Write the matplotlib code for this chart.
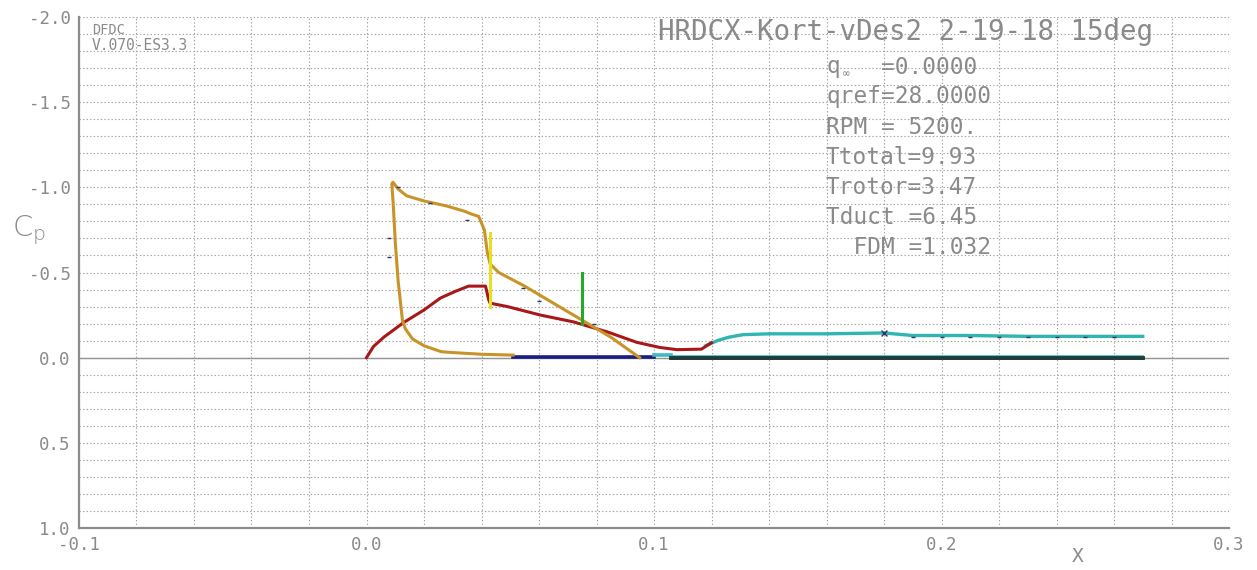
import numpy as np
import matplotlib
matplotlib.use("Agg")
import matplotlib.pyplot as plt
from matplotlib.ticker import MultipleLocator, FuncFormatter

plt.rcParams['axes.unicode_minus'] = False

# duct surface Cp (loop: lower surface end -> leading edge -> upper surface -> TE)
duct_x = [0.051, 0.040, 0.030, 0.026, 0.020, 0.016, 0.0135, 0.0125, 0.011, 0.010,
          0.0093, 0.0088, 0.0092, 0.011, 0.014, 0.020, 0.028, 0.034, 0.037, 0.039,
          0.041, 0.042, 0.043, 0.046, 0.055, 0.065, 0.075, 0.085, 0.095]
duct_cp = [-0.015, -0.02, -0.03, -0.035, -0.07, -0.11, -0.17, -0.22, -0.45, -0.68,
           -0.90, -1.02, -1.03, -0.99, -0.95, -0.92, -0.89, -0.86, -0.84, -0.83,
           -0.75, -0.62, -0.55, -0.50, -0.42, -0.32, -0.22, -0.12, 0.0]

# centerbody Cp
hub_x = [0.0, 0.0024, 0.006, 0.0129, 0.020, 0.0257, 0.031, 0.0355, 0.0414, 0.0425,
         0.043, 0.049, 0.0605, 0.072, 0.084, 0.094, 0.102, 0.108, 0.1165, 0.120]
hub_cp = [0.0, -0.065, -0.12, -0.206, -0.28, -0.35, -0.39, -0.42, -0.42, -0.34,
          -0.32, -0.30, -0.25, -0.21, -0.15, -0.09, -0.06, -0.047, -0.05, -0.088]

# wake
wake_x = [0.118, 0.122, 0.126, 0.131, 0.140, 0.160, 0.180, 0.190, 0.210, 0.230, 0.250, 0.270]
wake_cp = [-0.07, -0.10, -0.12, -0.135, -0.14, -0.14, -0.145, -0.13, -0.13, -0.125, -0.125, -0.125]

# lines on Cp = 0
navy_x = [0.051, 0.100]
navy_cp = [-0.005, -0.005]
stub_x = [0.100, 0.106]
stub_cp = [-0.015, -0.015]
dark_x = [0.106, 0.270]
dark_cp = [0.0, 0.0]
red0_x = [0.106, 0.270]
red0_cp = [0.01, 0.01]
cyan0_x = [0.106, 0.270]
cyan0_cp = [-0.01, -0.01]

# rotor / stator markers
rotor_x = [0.043, 0.043]
rotor_cp = [-0.30, -0.73]
stator_x = [0.075, 0.075]
stator_cp = [-0.20, -0.50]

# small data marks
mark_x = [0.011, 0.0077, 0.0077, 0.022, 0.035, 0.0546, 0.060, 0.079,
          0.19, 0.20, 0.21, 0.22, 0.23, 0.24, 0.25, 0.26]
mark_cp = [-1.0, -0.70, -0.59, -0.91, -0.81, -0.41, -0.33, -0.20,
           -0.12, -0.12, -0.12, -0.12, -0.12, -0.12, -0.12, -0.12]

title = "HRDCX-Kort-vDes2 2-19-18 15deg"
info = ["qref=28.0000", "RPM = 5200.", "Ttotal=9.93", "Trotor=3.47",
        "Tduct =6.45", "  FDM =1.032"]

W, H = 1257, 570
GRAY = '#8a8a8a'
MONO = 'DejaVu Sans Mono'

fig = plt.figure(figsize=(W / 100, H / 100), dpi=100)
ax = fig.add_axes([79 / W, 1 - 528 / H, (1229 - 79) / W, (528 - 17) / H])
ax.set_xlim(-0.1, 0.3)
ax.set_ylim(1.0, -2.0)

ax.xaxis.set_major_locator(MultipleLocator(0.1))
ax.xaxis.set_minor_locator(MultipleLocator(0.02))
ax.yaxis.set_major_locator(MultipleLocator(0.5))
ax.yaxis.set_minor_locator(MultipleLocator(0.1))
fmt = FuncFormatter(lambda v, p: f"{round(v, 3) + 0.0:.1f}")
ax.xaxis.set_major_formatter(fmt)
ax.yaxis.set_major_formatter(fmt)
ax.grid(which='both', color='#a0a0a0', linestyle=(0, (1.2, 2.0)), linewidth=0.8)
ax.tick_params(which='both', length=0, labelsize=12.5, labelcolor=GRAY)
ax.tick_params(axis='y', pad=6)
ax.tick_params(axis='x', pad=6)
for lab in ax.get_xticklabels() + ax.get_yticklabels():
    lab.set_family(MONO)
for s in ['top', 'right']:
    ax.spines[s].set_visible(False)
for s in ['left', 'bottom']:
    ax.spines[s].set_color('#8c8c8c')
    ax.spines[s].set_linewidth(1.6)
ax.axhline(0, color='#8c8c8c', lw=1.0, zorder=1)

# curves
ax.plot(navy_x, navy_cp, color='#1c1c80', lw=2.6, zorder=3)
ax.plot(stub_x, stub_cp, color='#40b8c0', lw=2.6, zorder=3)
ax.plot(cyan0_x, cyan0_cp, color='#40b8c0', lw=1.2, zorder=3)
ax.plot(red0_x, red0_cp, color='#d02020', lw=1.2, zorder=3)
ax.plot(dark_x, dark_cp, color='#203c3c', lw=2.8, zorder=4)
ax.plot(wake_x, wake_cp, color='#30b4b4', lw=2.4, zorder=4)
ax.plot(hub_x, hub_cp, color='#a81818', lw=2.2, zorder=5)
ax.plot(duct_x, duct_cp, color='#c89428', lw=2.2, zorder=6)
ax.plot(rotor_x, rotor_cp, color='#e6e020', lw=2.2, zorder=7)
ax.plot(stator_x, stator_cp, color='#28a828', lw=2.2, zorder=7)
ax.scatter(mark_x, mark_cp, marker='_', s=10, color='#30306a', linewidths=1.0, zorder=8)
ax.scatter([0.18], [-0.145], marker='x', s=18, color='#30306a', linewidths=1.0, zorder=8)


def ftxt(x, y, s, **kw):
    fig.text(x / W, 1 - y / H, s, va='center', ha='left', color=GRAY, family=MONO, **kw)


ftxt(92, 30, "DFDC", fontsize=9.8)
ftxt(92, 45, "V.070-ES3.3", fontsize=10.5)
ftxt(658, 32, title, fontsize=19.8)
ftxt(826, 67, "q", fontsize=16.4)
ftxt(843, 74, "\u221e", fontsize=8)
ftxt(881, 67, "=0.0000", fontsize=16.4)
for i, line in enumerate(info):
    ftxt(826, 97 + i * 30, line, fontsize=16.4)

fig.text(12 / W, 1 - 230 / H, r'$\mathregular{C_p}$', fontsize=21, color=GRAY,
         va='center', ha='left', family='DejaVu Sans', fontweight='light')
ftxt(1072, 557, "X", fontsize=14)

fig.savefig("out.png", dpi=100)
